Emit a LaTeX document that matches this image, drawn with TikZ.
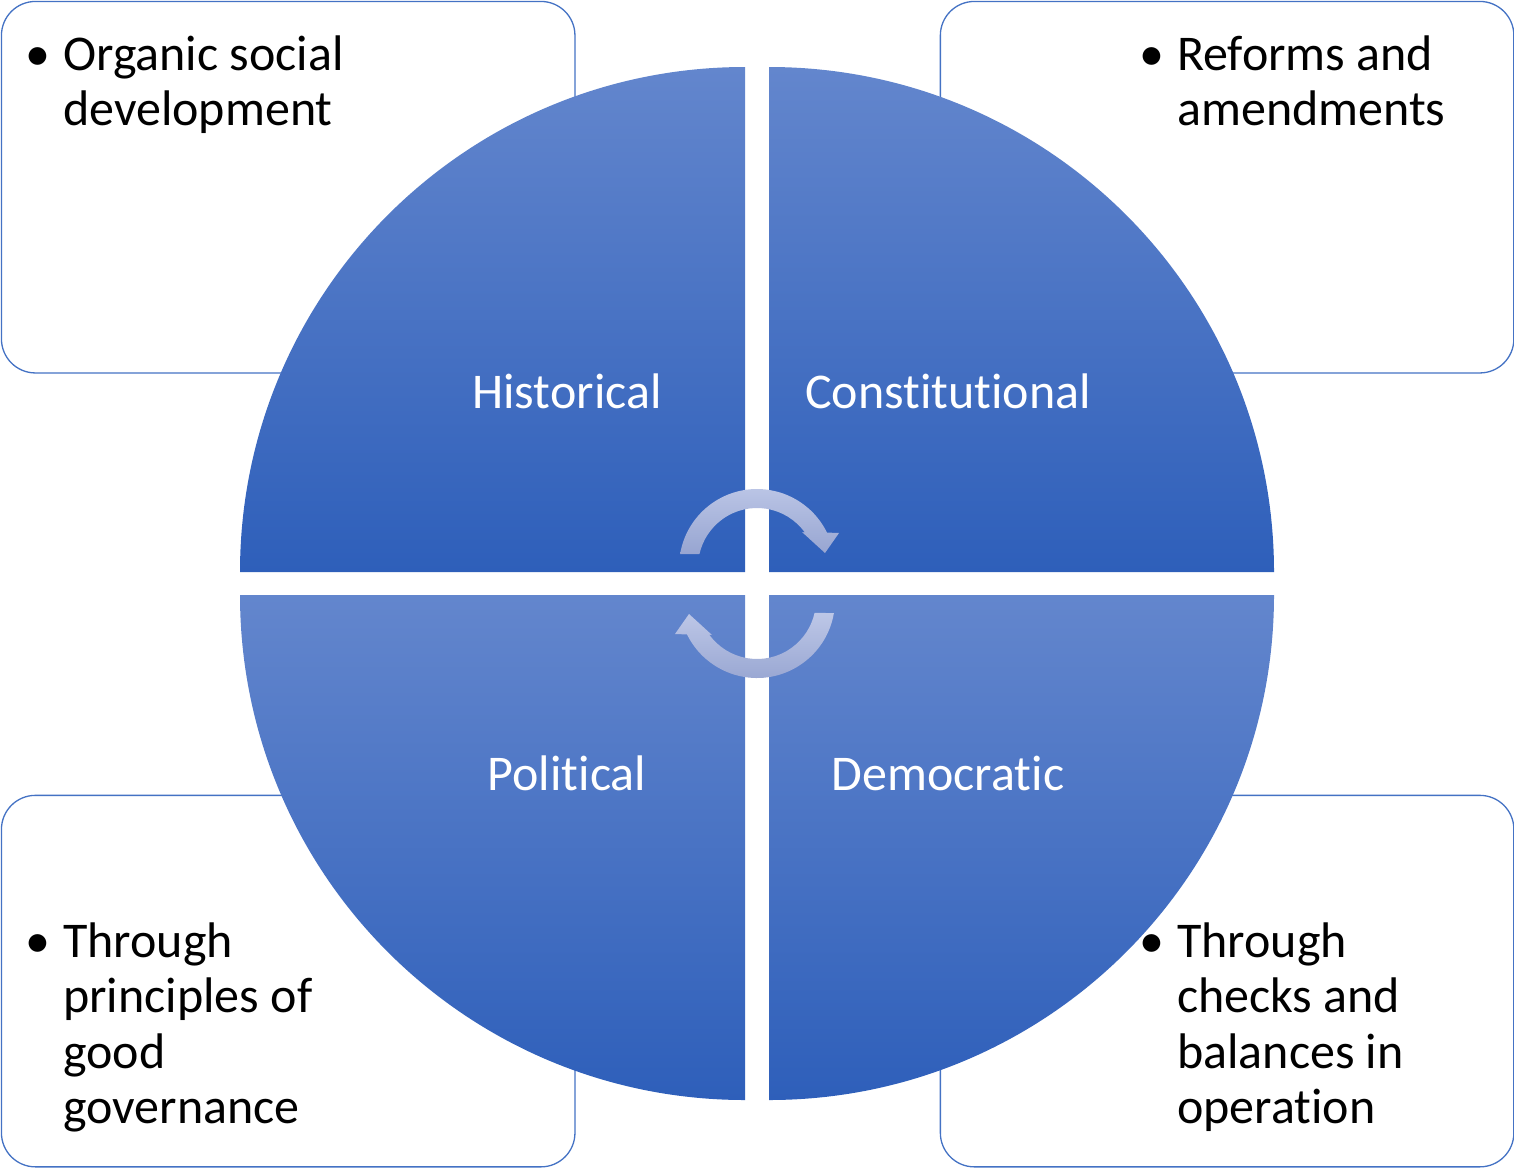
\documentclass[tikz,border=0pt]{standalone}
\usepackage{fontspec}
\setmainfont{Carlito}[Ligatures={NoCommon,NoContextual}]
\usetikzlibrary{calc}
\definecolor{boxline}{HTML}{4472C4}
\definecolor{qtop}{HTML}{6386CD}
\definecolor{qbot}{HTML}{2E5FBA}
\definecolor{atop}{HTML}{BDC7E7}
\definecolor{abot}{HTML}{97A5D1}
\newcommand\qfont{\fontsize{50}{55.5}\selectfont}
\tikzset{
  sidebox/.style={draw=boxline, line width=1.3pt, fill=white, rounded corners=34pt,
    minimum width=573.5pt, minimum height=371.5pt, inner sep=0pt, anchor=north west},
  quarter/.style={top color=qtop, bottom color=qbot, draw=none},
  qlabel/.style={text=white, font=\qfont, inner sep=0pt, anchor=base},
  btext/.style={font=\qfont, inner sep=0pt, anchor=base west},
  bulletmark/.style={font=\qfont, inner sep=0pt, anchor=base},
  cycarrow/.style={top color=atop, bottom color=abot, draw=none}
}
\begin{document}
\begin{tikzpicture}[x=1pt, y=-1pt]
\useasboundingbox (0,0) rectangle (1514,1167);
% side boxes
\node[sidebox] (boxTL) at (0.8,0.8) {};
\node[sidebox] (boxTR) at (939.7,0.8) {};
\node[sidebox] (boxBL) at (0.8,794.7) {};
\node[sidebox] (boxBR) at (939.7,794.7) {};
% quarters
\shade[quarter] (745,572) -- (240,572) arc[start angle=180, end angle=270, radius=505] -- cycle;
\shade[quarter] (769,572) -- (769,67) arc[start angle=270, end angle=360, radius=505] -- cycle;
\shade[quarter] (769,595) -- (1274,595) arc[start angle=0, end angle=90, radius=505] -- cycle;
\shade[quarter] (745,595) -- (745,1100) arc[start angle=90, end angle=180, radius=505] -- cycle;
% quarter labels
\node[qlabel] (hist) at (567,408) {Historical};
\node[qlabel] (const) at (948,408) {Constitutional};
\node[qlabel] (pol) at (567,790) {Political};
\node[qlabel] (dem) at (948,790) {Democratic};
% bullet texts
\node[bulletmark] (dotTL) at (38,70) {•};
\node[btext] (txtTL) at (63,70) {\begin{tabular}[t]{@{}l@{}}Organic social\\development\end{tabular}};
\node[bulletmark] (dotTR) at (1152,70) {•};
\node[btext] (txtTR) at (1177,70) {\begin{tabular}[t]{@{}l@{}}Reforms and\\amendments\end{tabular}};
\node[bulletmark] (dotBL) at (38,957) {•};
\node[btext] (txtBL) at (63,957) {\begin{tabular}[t]{@{}l@{}}Through\\principles of\\good\\governance\end{tabular}};
\node[bulletmark] (dotBR) at (1152,957) {•};
\node[btext] (txtBR) at (1177,957) {\begin{tabular}[t]{@{}l@{}}Through\\checks and\\balances in\\operation\end{tabular}};
% circular arrows
\coordinate (c1) at (757,567);
\coordinate (c2) at (757,600);
\shade[cycarrow] ($(c1)+(-170.4:78)$) arc[start angle=-170.4, end angle=-26.2, radius=78]
  -- (839,533) -- (825,553) -- (802,532)
  -- ($(c1)+(-35.8:59)$) arc[start angle=-35.8, end angle=-167.3, radius=59] -- cycle;
\shade[cycarrow] ($(c2)+(9.6:78)$) arc[start angle=9.6, end angle=153.8, radius=78]
  -- (675,634) -- (689,614) -- (712,635)
  -- ($(c2)+(144.2:59)$) arc[start angle=144.2, end angle=12.7, radius=59] -- cycle;
\end{tikzpicture}
\end{document}
